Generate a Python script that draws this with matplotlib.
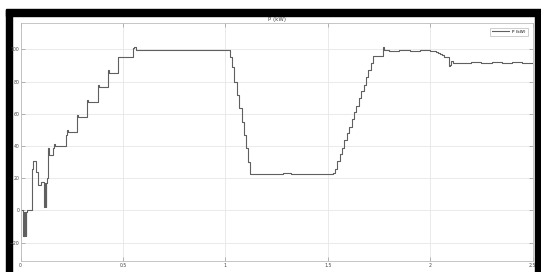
# !Recreate the Simulink scope plot of active power P (kW)

import numpy as np
from matplotlib import pyplot as plt
from matplotlib.patches import Rectangle



# !DATA: step-wise power trace, time (s) and level (kW)
t_start = [0.000, 0.014, 0.016, 0.018, 0.020, 0.022, 0.024, 0.026, 0.028, 0.030,
           0.055, 0.062, 0.074, 0.087, 0.100, 0.116, 0.118, 0.120, 0.122, 0.124,
           0.126, 0.128]
p_start = [0.0, -16.0, -1.0, -16.0, -1.0, -16.0, -1.0, -16.0, -1.0, 0.0,
           26.0, 30.5, 24.0, 15.5, 17.8, 2.0, 17.0, 2.0, 17.0, 2.0,
           17.0, 20.0]

t_ramp = [0.136, 0.141, 0.157, 0.162, 0.170, 0.221, 0.226, 0.234, 0.274, 0.279,
          0.326, 0.331, 0.377, 0.382, 0.429, 0.434, 0.475, 0.481, 0.551, 0.556,
          0.565, 0.60, 0.65, 0.70, 0.75, 0.80, 0.85, 0.90, 0.95, 1.00]
p_ramp = [38.5, 34.3, 38.5, 41.2, 40.0, 47.0, 50.0, 48.5, 59.5, 58.0,
          68.5, 67.0, 78.0, 76.5, 87.0, 85.5, 95.5, 95.0, 100.8, 101.2,
          99.8, 99.4, 99.8, 99.3, 99.7, 99.4, 99.8, 99.3, 99.7, 99.5]

t_drop = [1.023, 1.031, 1.043, 1.056, 1.068, 1.080, 1.091, 1.101, 1.112, 1.121,
          1.16, 1.20, 1.24, 1.28, 1.32, 1.36, 1.40, 1.44, 1.48]
p_drop = [95.0, 89.0, 80.0, 71.6, 63.3, 55.0, 46.8, 38.7, 30.2, 22.8,
          22.4, 22.9, 22.5, 23.0, 22.5, 22.9, 22.4, 22.8, 22.5]

t_rise = [1.527, 1.535, 1.546, 1.558, 1.570, 1.581, 1.593, 1.605, 1.617, 1.628,
          1.640, 1.652, 1.664, 1.675, 1.687, 1.699, 1.711, 1.723, 1.770, 1.776,
          1.80, 1.85, 1.90, 1.95, 2.00]
p_rise = [23.0, 26.0, 30.5, 35.0, 39.0, 43.5, 48.0, 52.0, 56.5, 61.0,
          65.0, 69.5, 74.0, 78.0, 82.5, 87.0, 91.5, 96.0, 101.5, 99.6,
          99.2, 99.6, 99.2, 99.5, 99.2]

t_end = [2.02, 2.03, 2.04, 2.05, 2.06, 2.07, 2.085, 2.090, 2.098, 2.102,
         2.11, 2.15, 2.20, 2.25, 2.30, 2.35, 2.40, 2.45, 2.50]
p_end = [98.8, 98.3, 97.8, 97.0, 96.2, 95.5, 95.0, 89.5, 90.5, 92.5,
         91.8, 91.5, 92.0, 91.5, 92.0, 91.5, 92.0, 91.6, 91.8]

x_ticks = [0, 0.5, 1, 1.5, 2, 2.5]
x_ticklabels = ['0', '0.5', '1', '1.5', '2', '2.5']
y_ticks = [-20, 0, 20, 40, 60, 80, 100]

t = np.array(t_start + t_ramp + t_drop + t_rise + t_end)
p = np.array(p_start + p_ramp + p_drop + p_rise + p_end)



# !Figure: 541x272 px
W, H = 541, 272
fig = plt.figure(figsize=(W / 100, H / 100), dpi=100)
fig.patch.set_facecolor('white')

# !black frame of the screenshot (top, left, right)
frame = [((6 / W, 1 - 15.5 / H), 1 - 6 / W, 6 / H),
         ((6 / W, 0), 5.5 / W, 1 - 9.5 / H),
         ((535 / W, 0), 6 / W, 1 - 9.5 / H)]
for xy, w, h in frame:
    fig.patches.append(Rectangle(xy, w, h, transform=fig.transFigure,
                                 color='black', zorder=-5))

ax = fig.add_axes([20.5 / W, 1 - 260.7 / H, (532.5 - 20.5) / W, (260.7 - 22.7) / H])
ax.set_zorder(5)
ax.plot(t, p, drawstyle='steps-post', color='#606060', lw=0.8, label='P (kW)')

ax.set_xlim(0, 2.5)
ax.set_ylim(-31.2, 116.5)
ax.set_xticks(x_ticks)
ax.set_xticklabels(x_ticklabels)
ax.set_yticks(y_ticks)
ax.grid(True, color='#e6e6e6', lw=0.6)
ax.set_axisbelow(True)
ax.tick_params(direction='in', length=3, width=0.5, color='#999999',
               labelsize=3.3, labelcolor='#444444', pad=0.8,
               top=True, right=True)
ax.tick_params(axis='x', pad=1.5)
for s in ax.spines.values():
    s.set_color('#bbbbbb')
    s.set_linewidth(0.6)

ax.set_title('P (kW)', fontsize=4, color='#444444', pad=1.5)

leg = ax.legend(loc='upper right', fontsize=3, handlelength=4, fancybox=False,
                framealpha=1, borderaxespad=1.2, borderpad=0.5)
leg.get_frame().set_edgecolor('#bbbbbb')
leg.get_frame().set_linewidth(0.5)

fig.savefig('out.png', dpi=100)
